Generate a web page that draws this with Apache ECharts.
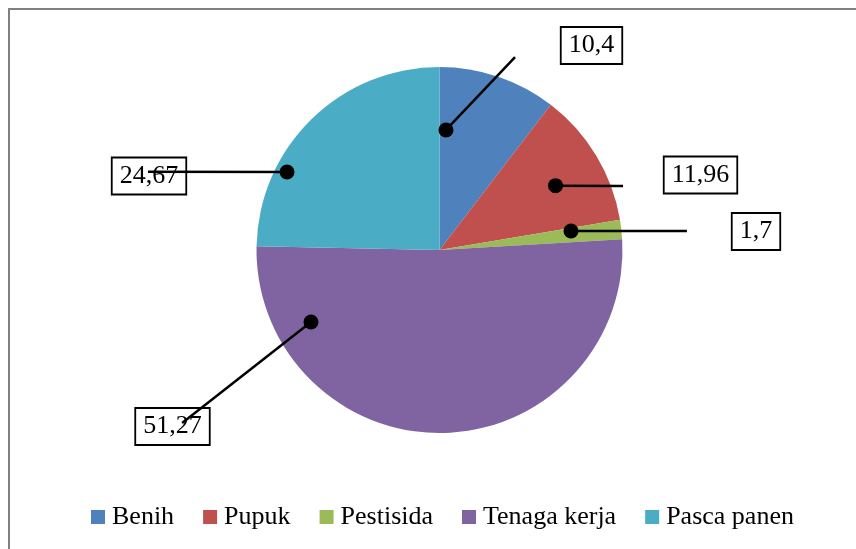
<!DOCTYPE html>
<html>
<head>
<meta charset="utf-8">
<script src="https://cdn.jsdelivr.net/npm/echarts@6/dist/echarts.min.js"></script>
<style>
html,body{margin:0;padding:0;background:#fff;}
#chart{width:856px;height:549px;}
</style>
</head>
<body>
<div id="chart"></div>
<script>
// ---- data ----
const categories = ['Benih', 'Pupuk', 'Pestisida', 'Tenaga kerja', 'Pasca panen'];
const values = [10.4, 11.96, 1.7, 51.27, 24.67];
// leader-line anchors, in pie units: angle as % of total (clockwise from top), radius as fraction of pie radius
const leaderDotAngle = [0.86, 16.94, 22.72, 66.87, 82.53];
const leaderDotRadius = [0.657, 0.725, 0.726, 0.805, 0.936];
const leaderEndAngle = [5.94, 19.67, 23.78, 65.58, 79.17];
const leaderEndRadius = [1.132, 1.062, 1.356, 1.695, 1.649];

// ---- layout / style ----
const colors = ['#4F81BD', '#C0504D', '#9BBB59', '#8064A2', '#4BACC6'];
const FONT = "'Liberation Serif', 'Times New Roman', serif";
const CX = 439.5, CY = 250, R = 183;
const labelPos = [[591.5, 45.5], [700.5, 175], [756, 231.5], [172.5, 426.5], [149, 176]];

const chart = echarts.init(document.getElementById('chart'), null, {renderer: 'canvas'});

const leaderSeries = categories.map((c, i) => ({
  type: 'line',
  coordinateSystem: 'polar',
  z: 5,
  silent: true,
  symbol: 'none',
  lineStyle: {color: '#000', width: 2.5},
  data: [[leaderDotRadius[i], leaderDotAngle[i]], [leaderEndRadius[i], leaderEndAngle[i]]]
}));

const option = {
  animation: false,
  color: colors,
  graphic: [{
    type: 'rect',
    silent: true,
    shape: {x: 9, y: 9, width: 900, height: 600},
    style: {fill: 'none', stroke: '#808080', lineWidth: 2}
  }],
  polar: {center: [CX, CY], radius: R * 2},
  angleAxis: {type: 'value', min: 0, max: 100, startAngle: 90, clockwise: true, show: false},
  radiusAxis: {type: 'value', min: 0, max: 2, show: false},
  legend: {
    data: categories,
    left: 91,
    top: 504,
    padding: 0,
    icon: 'rect',
    itemWidth: 14,
    itemHeight: 14,
    itemGap: 29,
    textStyle: {fontFamily: FONT, fontSize: 26, color: '#000', padding: [0, 0, 0, 2]}
  },
  series: [{
    type: 'pie',
    z: 1,
    center: [CX, CY],
    radius: R,
    startAngle: 90,
    clockwise: true,
    silent: true,
    data: categories.map((c, i) => ({name: c, value: values[i]})),
    itemStyle: {borderWidth: 0},
    label: {
      show: true,
      position: 'outside',
      formatter: p => String(p.value).replace('.', ','),
      fontFamily: FONT,
      fontSize: 26,
      lineHeight: 26,
      color: '#000',
      borderColor: '#000',
      borderWidth: 1.8,
      padding: [6, 8, 5, 8]
    },
    labelLine: {show: false},
    labelLayout: p => ({
      x: labelPos[p.dataIndex][0],
      y: labelPos[p.dataIndex][1],
      align: 'center',
      verticalAlign: 'middle'
    })
  }].concat(leaderSeries, [{
    type: 'scatter',
    coordinateSystem: 'polar',
    z: 6,
    silent: true,
    symbol: 'circle',
    symbolSize: 15,
    itemStyle: {color: '#000', opacity: 1},
    data: categories.map((c, i) => [leaderDotRadius[i], leaderDotAngle[i]])
  }])
};
chart.setOption(option);
</script>
</body>
</html>
